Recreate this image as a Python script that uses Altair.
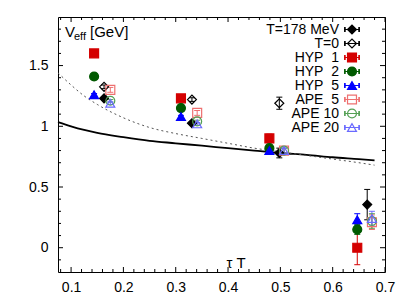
import altair as alt
import pandas as pd

FONT = "Liberation Sans"

# ---------------- data ----------------
series_names = ["T=178 MeV", "T=0", "HYP\u00a0\u00a01", "HYP\u00a0\u00a02", "HYP\u00a0\u00a05",
                "APE\u00a0\u00a05", "APE 10", "APE 20"]
series_colors = ["#000000", "#000000", "#d40000", "#005a00", "#0000ff", "#ee7070", "#55a055", "#6a6aff"]
series_fills = ["#000000", "transparent", "#d40000", "#005a00", "#0000ff",
                "transparent", "transparent", "transparent"]
series_shapes = ["diamond", "diamond", "square", "circle", "triangle-up", "square", "circle", "triangle-up"]

t178_x = [0.163, 0.331, 0.498, 0.666]
t178_y = [1.23, 1.025, 0.78, 0.355]
t178_e = [0.01, 0.01, 0.04, 0.125]

t0_x = [0.163, 0.331, 0.498]
t0_y = [1.325, 1.22, 1.19]
t0_e = [0.015, 0.015, 0.05]

hyp_x = [0.144, 0.310, 0.479, 0.647]
hyp1_y = [1.60, 1.23, 0.90, 0.0]
hyp1_e = [0.02, 0.02, 0.035, 0.14]
hyp2_y = [1.41, 1.15, 0.82, 0.15]
hyp2_e = [0.01, 0.01, 0.01, 0.04]
hyp5_y = [1.26, 1.08, 0.80, 0.23]
hyp5_e = [0.01, 0.01, 0.01, 0.05]

ape_x = [0.175, 0.341, 0.507, 0.675]
ape5_y = [1.30, 1.11, 0.80, 0.21]
ape5_e = [0.02, 0.02, 0.02, 0.06]
ape10_y = [1.21, 1.04, 0.80, 0.22]
ape10_e = [0.01, 0.01, 0.02, 0.06]
ape20_y = [1.19, 1.02, 0.80, 0.24]
ape20_e = [0.01, 0.01, 0.02, 0.06]

solid_x = [0.075, 0.1, 0.125, 0.15, 0.2, 0.25, 0.3, 0.35, 0.4, 0.45, 0.5, 0.55, 0.6, 0.65, 0.68]
solid_y = [1.035, 1.0, 0.97, 0.945, 0.91, 0.88, 0.86, 0.84, 0.82, 0.80, 0.78, 0.765, 0.745, 0.73, 0.72]

dotted_x = [0.075, 0.1, 0.125, 0.15, 0.2, 0.25, 0.3, 0.35, 0.4, 0.45, 0.5, 0.55, 0.6, 0.65, 0.68]
dotted_y = [1.44, 1.34, 1.25, 1.18, 1.07, 0.99, 0.94, 0.90, 0.86, 0.82, 0.79, 0.76, 0.73, 0.70, 0.68]

x_major = [0.1, 0.2, 0.3, 0.4, 0.5, 0.6, 0.7]
x_minor = [round(0.08 + 0.02 * i, 2) for i in range(31)]
x_minor = [v for v in x_minor if all(abs(v - m) > 1e-6 for m in x_major)]
y_major = [0, 0.5, 1, 1.5]
y_minor = [round(-0.1 + 0.1 * i, 1) for i in range(20)]
y_minor = [v for v in y_minor if all(abs(v - m) > 1e-6 for m in y_major)]

# ---------------- tables ----------------
rows = []
for name, xs, ys, es in [
    (series_names[0], t178_x, t178_y, t178_e),
    (series_names[1], t0_x, t0_y, t0_e),
    (series_names[2], hyp_x, hyp1_y, hyp1_e),
    (series_names[3], hyp_x, hyp2_y, hyp2_e),
    (series_names[4], hyp_x, hyp5_y, hyp5_e),
    (series_names[5], ape_x, ape5_y, ape5_e),
    (series_names[6], ape_x, ape10_y, ape10_e),
    (series_names[7], ape_x, ape20_y, ape20_e),
]:
    for x, y, e in zip(xs, ys, es):
        rows.append({"series": name, "bar": name + "\u200b", "x": x, "y": y, "lo": y - e, "hi": y + e})
df = pd.DataFrame(rows)
bar_domain = [s + "\u200b" for s in series_names]

solid_df = pd.DataFrame({"x": solid_x, "y": solid_y})
dotted_df = pd.DataFrame({"x": dotted_x, "y": dotted_y})

W, H = 327, 255

xscale = alt.Scale(domain=[0.075, 0.7], nice=False, zero=False)
yscale = alt.Scale(domain=[-0.2, 1.9], nice=False, zero=False)

xaxis = alt.Axis(values=x_major, format=".1f", ticks=False, domain=False, grid=False,
                 labelFont=FONT, labelFontSize=14, labelColor="black", labelPadding=8,
                 labelFlush=False, labelOverlap=False, title=None)
yaxis = alt.Axis(values=y_major, format="~g", ticks=False, domain=False, grid=False,
                 labelFont=FONT, labelFontSize=14, labelColor="black", labelPadding=10,
                 labelOverlap=False, title=None)

LX, LY = 287, 5.5
L1 = alt.Legend(orient="none", legendX=LX, legendY=LY, title=None, labelAlign="right",
                labelOffset={"expr": "-20"}, labelFont=FONT, labelFontSize=14, labelColor="black",
                rowPadding=0, symbolSize=80, symbolStrokeWidth=1.2, symbolOpacity=1,
                padding=0, labelLimit=300)
L2 = alt.Legend(orient="none", legendX=LX, legendY=LY, title=None, labelAlign="right",
                labelOffset={"expr": "-20"}, labelFont=FONT, labelFontSize=14, labelExpr="''",
                rowPadding=0, symbolSize=80, symbolStrokeWidth=1,
                symbolType="M-1.6,0H1.6M-1.6,-0.55V0.55M1.6,-0.55V0.55",
                symbolFillColor="transparent", padding=0, labelLimit=300)

base_x = alt.X("x:Q", scale=xscale, axis=xaxis)
base_y = alt.Y("y:Q", scale=yscale, axis=yaxis)

solid = alt.Chart(solid_df).mark_line(color="black", strokeWidth=1.8, interpolate="monotone").encode(
    x=base_x, y=base_y)
dotted = alt.Chart(dotted_df).mark_line(color="#555555", strokeWidth=1, strokeDash=[2, 3],
                                        interpolate="monotone").encode(x="x:Q", y="y:Q")

bar_stroke = alt.Stroke("bar:N", scale=alt.Scale(domain=bar_domain, range=series_colors), legend=L2)
bars = alt.Chart(df).mark_rule(strokeWidth=1).encode(
    x="x:Q", y="lo:Q", y2="hi:Q", stroke=bar_stroke)
caps_lo = alt.Chart(df).mark_point(shape="stroke", size=36, strokeWidth=1, opacity=1).encode(
    x="x:Q", y="lo:Q", stroke=bar_stroke)
caps_hi = alt.Chart(df).mark_point(shape="stroke", size=36, strokeWidth=1, opacity=1).encode(
    x="x:Q", y="hi:Q", stroke=bar_stroke)

points = alt.Chart(df).mark_point(size=80, strokeWidth=1.2, opacity=1).encode(
    x="x:Q", y="y:Q",
    color=alt.Color("series:N", scale=alt.Scale(domain=series_names, range=series_colors), legend=L1),
    fill=alt.Fill("series:N", scale=alt.Scale(domain=series_names, range=series_fills), legend=L1),
    shape=alt.Shape("series:N", scale=alt.Scale(domain=series_names, range=series_shapes), legend=L1),
)

# inward ticks on all four sides
xmaj_df = pd.DataFrame({"x": x_major})
xmin_df = pd.DataFrame({"x": x_minor})
ymaj_df = pd.DataFrame({"y": y_major})
ymin_df = pd.DataFrame({"y": y_minor})

def xt(d, n, top):
    if top:
        return alt.Chart(d).mark_rule(color="black", strokeWidth=1).encode(
            x="x:Q", y=alt.value(0), y2=alt.value(n))
    return alt.Chart(d).mark_rule(color="black", strokeWidth=1).encode(
        x="x:Q", y=alt.value(H), y2=alt.value(H - n))

def yt(d, n, right):
    if right:
        return alt.Chart(d).mark_rule(color="black", strokeWidth=1).encode(
            y="y:Q", x=alt.value(W), x2=alt.value(W - n))
    return alt.Chart(d).mark_rule(color="black", strokeWidth=1).encode(
        y="y:Q", x=alt.value(0), x2=alt.value(n))

ticks = [xt(xmaj_df, 5, False), xt(xmaj_df, 5, True), xt(xmin_df, 3, False), xt(xmin_df, 3, True),
         yt(ymaj_df, 5, False), yt(ymaj_df, 5, True), yt(ymin_df, 3, False), yt(ymin_df, 3, True)]

title_v = alt.Chart(pd.DataFrame({"t": ["V"]})).mark_text(
    font=FONT, fontSize=15, align="left", baseline="alphabetic", color="black").encode(
    text="t:N", x=alt.value(7), y=alt.value(20))
title_eff = alt.Chart(pd.DataFrame({"t": ["eff"]})).mark_text(
    font=FONT, fontSize=11, align="left", baseline="alphabetic", color="black").encode(
    text="t:N", x=alt.value(16), y=alt.value(23))
title_gev = alt.Chart(pd.DataFrame({"t": ["[GeV]"]})).mark_text(
    font=FONT, fontSize=15, align="left", baseline="alphabetic", color="black").encode(
    text="t:N", x=alt.value(32), y=alt.value(20))
title_x = alt.Chart(pd.DataFrame({"t": ["\u03c4 T"]})).mark_text(
    font=FONT, fontSize=15, align="center", baseline="alphabetic", color="black").encode(
    text="t:N", x=alt.value(178), y=alt.value(251))

chart = alt.layer(
    solid, dotted, bars, caps_lo, caps_hi, points, *ticks, title_v, title_eff, title_gev, title_x
).resolve_scale(
    stroke="independent"
).properties(
    width=W, height=H,
    autosize=alt.AutoSizeParams(type="none"),
    padding={"left": 50, "top": 9, "right": 16, "bottom": 21},
    background="white",
).configure_view(stroke="black", strokeWidth=1)

chart.save("out.html", embed_options={"renderer": "svg", "actions": False})
